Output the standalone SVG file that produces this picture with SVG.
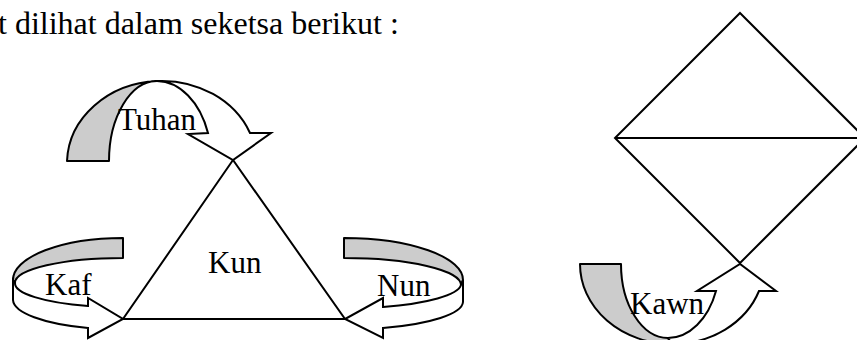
<svg xmlns="http://www.w3.org/2000/svg" width="857" height="340" viewBox="0 0 857 340">
<style>
.ln{fill:none;stroke:#000;stroke-width:2;stroke-linejoin:miter}
.gr{fill:#cccccc;stroke:#000;stroke-width:2;stroke-linejoin:round}
.wh{fill:#ffffff;stroke:#000;stroke-width:2;stroke-linejoin:miter}
.t{font-family:"Liberation Serif","Times New Roman",serif;font-size:31px;fill:#000}
.h{font-family:"Liberation Serif","Times New Roman",serif;font-size:32px;fill:#000}
</style>
<rect width="857" height="340" fill="#ffffff"/>
<g id="header">
<text class="h" x="-2" y="34">t dilihat dalam seketsa berikut :</text>
</g>
<g id="triangle">
<path class="ln" d="M233,160 L123,319 L345,319 Z"/>
<text class="t" x="208" y="273">Kun</text>
</g>
<g id="diamond">
<path class="ln" d="M740,13 L865,138 L740,263 L615,138 Z"/>
<path class="ln" d="M615,138 L865,138"/>
</g>
<g id="connectors">
<g id="arrow-tuhan">
<path class="gr" d="M67,161 L109,161 A48,80 0 0 1 157,81 A95,83 0 0 0 67,161 Z"/>
<path class="wh" d="M157,81 A95,83 0 0 1 250,133 L271,133 L233,160 L188,134 L208,133 A55,80 0 0 0 157,81 Z"/>
<text class="t" x="118" y="130">Tuhan</text>
</g>
<g id="arrow-kaf">
<path class="gr" d="M123,238 A110,42 0 0 0 13,280 L15,283 A108,25 0 0 1 123,258 Z"/>
<path class="wh" d="M13,280 L13,300 A110,30 0 0 0 88,328 L88,338 L123,319 L88,298 L88,306 A108,24 0 0 1 15,283 Z"/>
<text class="t" x="45" y="295">Kaf</text>
</g>
<g id="arrow-nun">
<path class="gr" d="M344,238 A119,42 0 0 1 463,280 L461,285 A117,27 0 0 0 344,258 Z"/>
<path class="wh" d="M463,280 L463,302 A119,28 0 0 1 383,328 L383,338 L345,319 L383,298 L383,307 A117,25 0 0 0 461,285 Z"/>
<text class="t" x="377" y="296">Nun</text>
</g>
<g id="arrow-kawn">
<path class="gr" d="M580,264 L621,264 A47,74 0 0 0 668,338 L672,344 A92,80 0 0 1 580,264 Z"/>
<path class="wh" d="M668,338 A52,74 0 0 0 716,291 L697,291 L740,264 L776,291 L759,291 A92,80 0 0 1 672,344 Z"/>
<text class="t" x="630" y="314">Kawn</text>
</g>
</g>
</svg>
